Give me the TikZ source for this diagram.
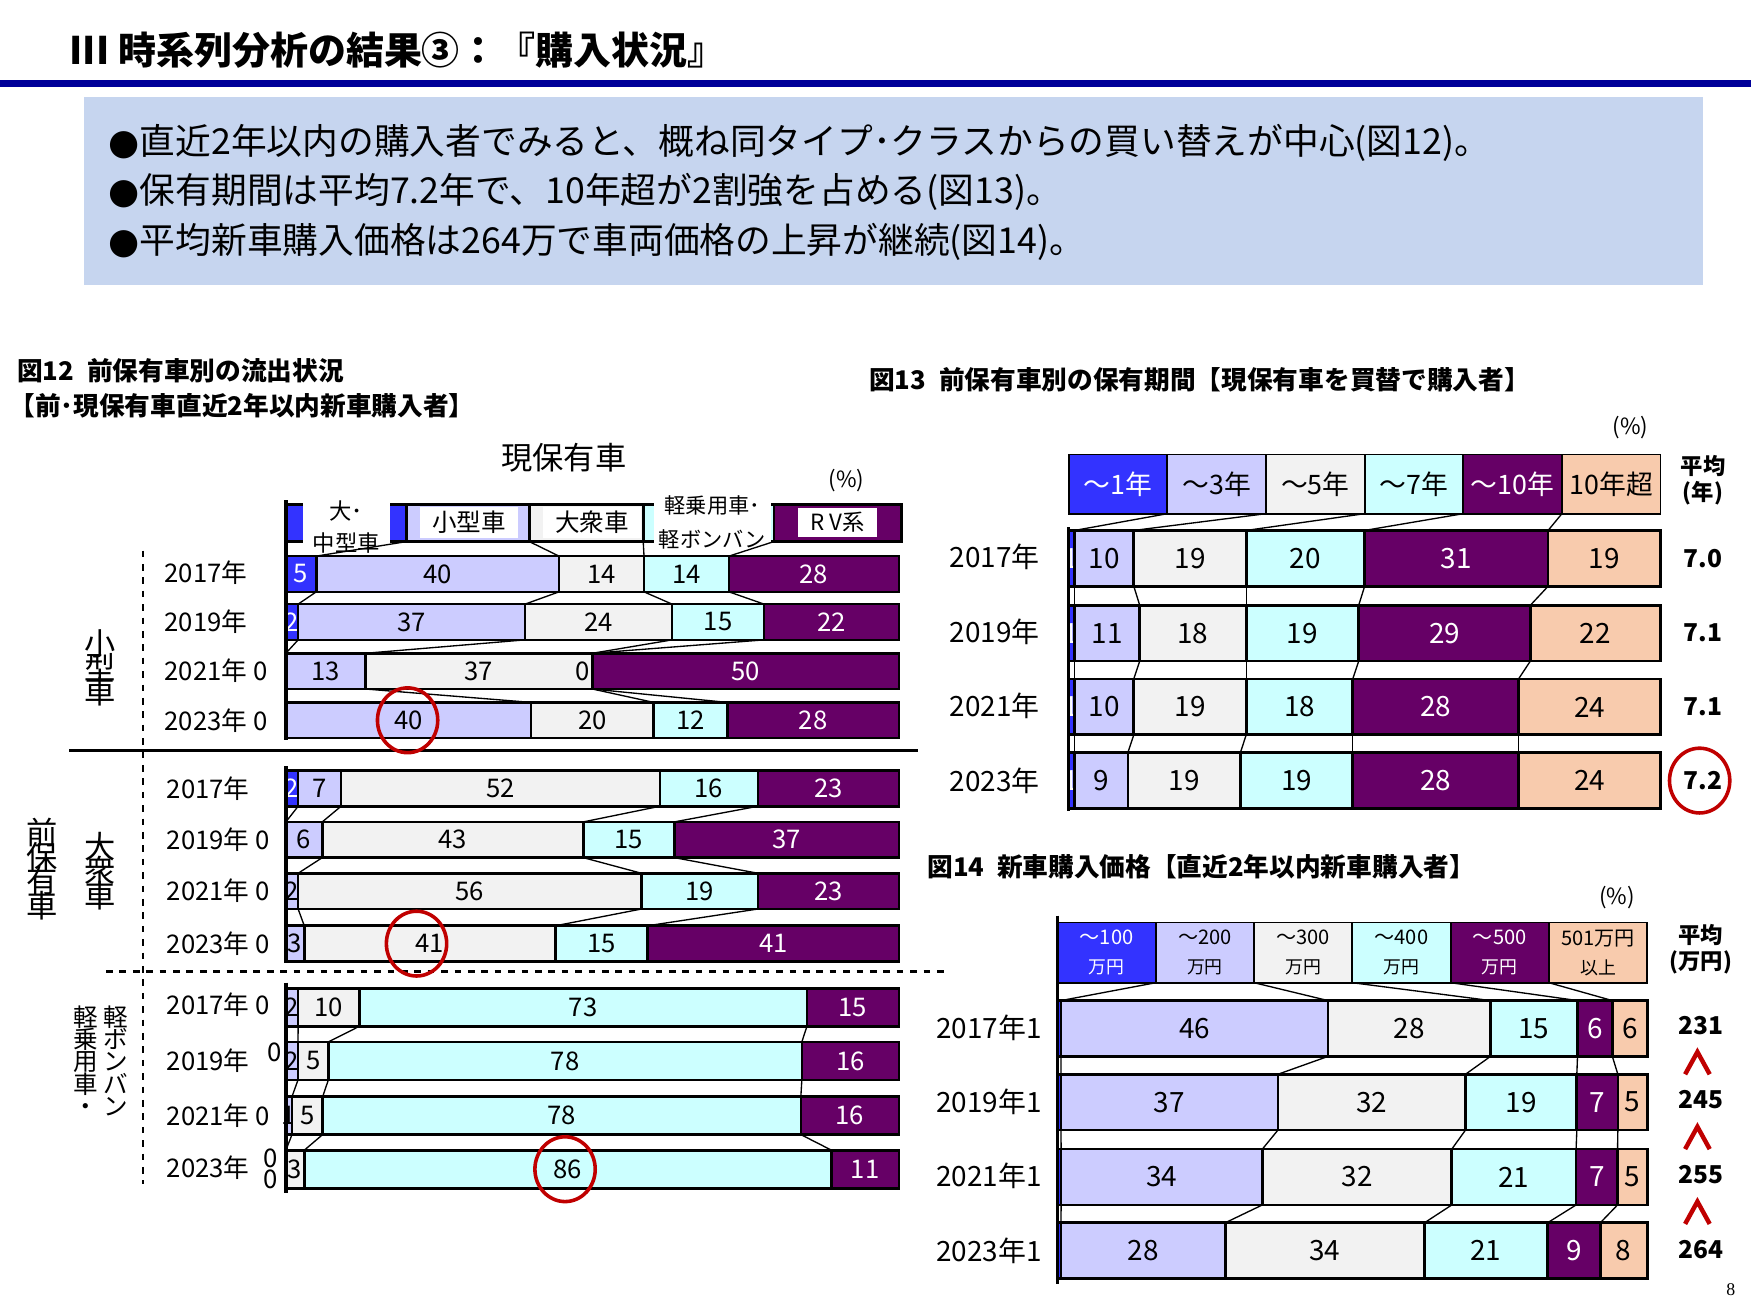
\documentclass[tikz,border=0pt]{standalone}
\usepackage{fontspec}
\usetikzlibrary{shapes.geometric}
\setmainfont{Noto Sans CJK JP}
\definecolor{ca}{HTML}{3333FF}
\definecolor{cb}{HTML}{CCCCFF}
\definecolor{cc}{HTML}{F2F2F2}
\definecolor{cd}{HTML}{CCFFFF}
\definecolor{ce}{HTML}{660066}
\definecolor{cf}{HTML}{F8CBAD}
\definecolor{navy}{HTML}{000099}
\definecolor{boxbg}{HTML}{C6D5EF}
\definecolor{cred}{HTML}{C00000}
\newcommand\fs[1]{\fontsize{#1}{#1}\selectfont}
% name, x0, x1, yc, halfheight, vals (v/color/textcolor)
\newcommand\sbar[6]{%
 \xdef\tot{0}%
 \foreach \v/\c/\t in {#6}{\pgfmathparse{\tot+\v}\xdef\tot{\pgfmathresult}}%
 \xdef\acc{0}%
 \foreach \v/\c/\t [count=\i] in {#6}{%
   \pgfmathsetmacro\xa{#2+(#3-#2)*(\acc/\tot)}%
   \pgfmathsetmacro\xb{#2+(#3-#2)*((\acc+\v)/\tot)}%
   \fill[\c,draw=black,line width=1.2pt] (\xa,#4-#5) rectangle (\xb,#4+#5);
   \pgfmathtruncatemacro\ok{\v>0.9}%
   \ifnum\ok>0 \node[text=\t,inner sep=0] (#1n\i) at ({(\xa+\xb)/2},#4) {\v};\fi
   \coordinate (#1t\i) at (\xb,#4-#5);
   \coordinate (#1b\i) at (\xb,#4+#5);
   \pgfmathparse{\acc+\v}\xdef\acc{\pgfmathresult}%
 }}
\newcommand\links[3]{\foreach \k in {#3}{\draw[line width=0.6pt] (#1b\k) -- (#2t\k);}}
\begin{document}
\begin{tikzpicture}[x=0.5pt,y=-0.5pt,
  ring/.style={draw=cred,line width=1.6pt,ellipse,minimum width=27pt,minimum height=29pt},
  yl/.style={anchor=west,inner sep=0},
  hl/.style={fill=white,inner sep=2pt,align=center}]
\useasboundingbox (0,0) rectangle (1568,1176);
% title
\node[anchor=west,inner sep=0] (title) at (62,45) {\fs{17}\bfseries III 時系列分析の結果③：『購入状況』};
\fill[navy] (0,72) rectangle (1568,78);
\fill[boxbg] (75,87) rectangle (1525,255);
\node[anchor=west,inner sep=0,align=left] (sum) at (97,172) {\fs{16}\fontspec{DejaVu Sans}●\fontspec{Noto Sans CJK JP}直近2年以内の購入者でみると、概ね同タイプ･クラスからの買い替えが中心(図12)。\\[4.5pt]
\fs{16}\fontspec{DejaVu Sans}●\fontspec{Noto Sans CJK JP}保有期間は平均7.2年で、10年超が2割強を占める(図13)。\\[4.5pt]
\fs{16}\fontspec{DejaVu Sans}●\fontspec{Noto Sans CJK JP}平均新車購入価格は264万で車両価格の上昇が継続(図14)。};
% ===== fig 12
\node[anchor=west,inner sep=0] (t12a) at (15,332) {\fs{11.5}\bfseries 図12\enspace 前保有車別の流出状況};
\node[anchor=west,inner sep=0] (t12b) at (8,363) {\fs{11.5}\bfseries 【前･現保有車直近2年以内新車購入者】};
\node (gen) at (505,410) {\fs{14}現保有車};
\node (p12) at (758,430) {\fs{10}(\%)};
% header
\foreach \a/\b/\c [count=\i] in {256/364/ca,364/474/cb,474/576/cc,576/693/cd,693/807/ce}{
  \fill[\c,draw=black,line width=1.2pt] (\a,452) rectangle (\b,485);
  \coordinate (Hb\i) at (\b,485);}
\node[hl,minimum width=39pt,minimum height=30pt] (h1) at (310,472) {\fs{10}大･\\[2pt]\fs{10}中型車};
\node[hl,minimum width=44pt,minimum height=13pt] (h2) at (420,468) {\fs{11}小型車};
\node[hl,minimum width=44pt,minimum height=13pt] (h3) at (530,468) {\fs{11}大衆車};
\node[hl,minimum width=52pt,minimum height=28pt] (h4) at (638,468) {\fs{9.5}軽乗用車･\\[3pt]\fs{9.5}軽ボンバン};
\node[hl,minimum width=35pt,minimum height=13pt] (h5) at (750,468) {\fs{10}R V系};
\begin{scope}[font=\fs{11.5}]
\sbar{Sa}{256}{805}{514}{16}{5/ca/white,40/cb/black,14/cc/black,14/cd/black,28/ce/white}
\sbar{Sb}{256}{805}{557}{16}{2/ca/white,37/cb/black,24/cc/black,15/cd/black,22/ce/white}
\sbar{Sc}{256}{805}{601}{16}{0/ca/white,13/cb/black,37/cc/black,0/cd/black,50/ce/white}
\sbar{Sd}{256}{805}{645}{16}{0/ca/white,40/cb/black,20/cc/black,12/cd/black,28/ce/white}
\sbar{La}{256}{805}{706}{16}{2/ca/white,7/cb/black,52/cc/black,16/cd/black,23/ce/white}
\sbar{Lb}{256}{805}{752}{16}{0/ca/white,6/cb/black,43/cc/black,15/cd/black,37/ce/white}
\sbar{Lc}{256}{805}{798}{16}{0/ca/white,2/cb/black,56/cc/black,19/cd/black,23/ce/white}
\sbar{Ld}{256}{805}{845}{16}{0/ca/white,3/cb/black,41/cc/black,15/cd/black,41/ce/white}
\sbar{Ka}{256}{805}{902}{17}{0/ca/white,2/cb/black,10/cc/black,73/cd/black,15/ce/white}
\sbar{Kb}{256}{805}{950}{17}{0/ca/white,2/cb/black,5/cc/black,78/cd/black,16/ce/white}
\sbar{Kc}{256}{805}{999}{17}{0/ca/white,1/cb/black,5/cc/black,78/cd/black,16/ce/white}
\sbar{Kd}{256}{805}{1047}{17}{0/ca/white,0/cb/black,3/cc/black,86/cd/black,11/ce/white}
\node[inner sep=0] (z1) at (522,601) {0};
\node[yl] (ya) at (147,513) {2017年};
\node[yl] (yb) at (147,557) {2019年};
\node[yl] (yc) at (147,601) {2021年 0};
\node[yl] (yd) at (147,645) {2023年 0};
\node[yl] (ye) at (149,706) {2017年};
\node[yl] (yf) at (149,752) {2019年 0};
\node[yl] (yg) at (149,798) {2021年 0};
\node[yl] (yh) at (149,845) {2023年 0};
\node[yl] (yi) at (149,900) {2017年 0};
\node[yl] (yj) at (149,950) {2019年};
\node[inner sep=0] (zj) at (246,942) {0};
\node[yl] (yk) at (149,999) {2021年 0};
\node[yl] (yl2) at (149,1046) {2023年};
\node[inner sep=0,align=center] (zl) at (242,1047) {0\\[-2pt]0};
\end{scope}
\links{H}{Sa}{1,2,3,4}
\links{Sa}{Sb}{1,2,3,4}\links{Sb}{Sc}{1,2,3,4}\links{Sc}{Sd}{1,2,3,4}
\links{La}{Lb}{1,2,3,4}\links{Lb}{Lc}{1,2,3,4}\links{Lc}{Ld}{1,2,3,4}
\links{Ka}{Kb}{1,2,3,4}\links{Kb}{Kc}{1,2,3,4}\links{Kc}{Kd}{1,2,3,4}
\draw[line width=2pt] (256,448) -- (256,663);
\draw[line width=2pt] (256,686) -- (256,862);
\draw[line width=2pt] (256,880) -- (256,1068);
\draw[dashed,line width=0.8pt] (128,493) -- (128,1060);
\draw[line width=1pt] (62,672) -- (822,672);
\draw[dashed,line width=1pt] (95,870) -- (850,870);
\node[align=center,inner sep=0] (vs) at (90,598) {\fs{14}小\\[-3pt]\fs{14}型\\[-3pt]\fs{14}車};
\node[align=center,inner sep=0] (vl) at (90,780) {\fs{14}大\\[-3pt]\fs{14}衆\\[-3pt]\fs{14}車};
\node[align=center,inner sep=0] (vz) at (38,778) {\fs{14}前\\[-3pt]\fs{14}保\\[-3pt]\fs{14}有\\[-3pt]\fs{14}車};
\node[align=center,inner sep=0,anchor=north] (vk1) at (77,900) {\fs{11}軽\\[-2pt]\fs{11}乗\\[-2pt]\fs{11}用\\[-2pt]\fs{11}車\\[-2pt]\fs{11}・};
\node[align=center,inner sep=0,anchor=north] (vk2) at (104,900) {\fs{11}軽\\[-2pt]\fs{11}ボ\\[-2pt]\fs{11}ン\\[-2pt]\fs{11}バ\\[-2pt]\fs{11}ン};
\node[ring] (r1) at (365,645) {};
\node[ring] (r2) at (373,845) {};
\node[ring] (r3) at (506,1047) {};
% ===== fig 13
\node[anchor=west,inner sep=0] (t13) at (778,340) {\fs{11.5}\bfseries 図13\enspace 前保有車別の保有期間【現保有車を買替で購入者】};
\node (p13) at (1460,383) {\fs{10}(\%)};
\foreach \c/\tc/\s [count=\i] in {ca/white/～1年,cb/black/～3年,cc/black/～5年,cd/black/～7年,ce/white/～10年,cf/black/10年超}{
  \pgfmathsetmacro\xa{957+88.33*(\i-1)}\pgfmathsetmacro\xb{957+88.33*\i}
  \fill[\c,draw=black,line width=0.8pt] (\xa,407) rectangle (\xb,460);
  \node[text=\tc,inner sep=0] (g\i) at ({(\xa+\xb)/2},434) {\fs{12}\s};
  \coordinate (Gb\i) at (\xb,460);}
\node[align=center,inner sep=0] (avg13) at (1525,430) {\fs{10}\bfseries 平均\\\fs{10}\bfseries (年)};
\begin{scope}[font=\fs{12.5}]
\sbar{Ya}{957}{1487}{500}{25}{1/ca/white,10/cb/black,19/cc/black,20/cd/black,31/ce/white,19/cf/black}
\sbar{Yb}{957}{1487}{567}{25}{1/ca/white,11/cb/black,18/cc/black,19/cd/black,29/ce/white,22/cf/black}
\sbar{Yc}{957}{1487}{633}{25}{1/ca/white,10/cb/black,19/cc/black,18/cd/black,28/ce/white,24/cf/black}
\sbar{Yd}{957}{1487}{699}{25}{1/ca/white,9/cb/black,19/cc/black,19/cd/black,28/ce/white,24/cf/black}
\node[yl] (y13a) at (850,499) {2017年};
\node[yl] (y13b) at (850,566) {2019年};
\node[yl] (y13c) at (850,632) {2021年};
\node[yl] (y13d) at (850,699) {2023年};
\end{scope}
\foreach \r/\v in {500/7.0,567/7.1,633/7.1,699/7.2}{\node[inner sep=0] at (1525,\r) {\fs{11}\bfseries \v};}
\links{G}{Ya}{1,2,3,4,5}\links{Ya}{Yb}{1,2,3,4,5}\links{Yb}{Yc}{1,2,3,4,5}\links{Yc}{Yd}{1,2,3,4,5}
\draw[line width=1.5pt] (957,472) -- (957,726);
\node[ring] (r4) at (1522,699) {};
% ===== fig 14
\node[anchor=west,inner sep=0] (t14) at (830,776) {\fs{11.5}\bfseries 図14\enspace 新車購入価格【直近2年以内新車購入者】};
\node (p14) at (1448,804) {\fs{10}(\%)};
\foreach \c/\tc/\s/\u [count=\i] in {ca/white/～100/万円,cb/black/～200/万円,cc/black/～300/万円,cd/black/～400/万円,ce/white/～500/万円,cf/black/501万円/以上}{
  \pgfmathsetmacro\xa{947+88*(\i-1)}\pgfmathsetmacro\xb{947+88*\i}
  \fill[\c,draw=black,line width=0.8pt] (\xa,826) rectangle (\xb,880);
  \node[text=\tc,inner sep=0,align=center] (m\i) at ({(\xa+\xb)/2},853) {\fs{9}\s\\[1pt]\fs{8}\u};
  \coordinate (Mb\i) at (\xb,880);}
\node[align=center,inner sep=0] (avg14) at (1523,850) {\fs{10}\bfseries 平均\\\fs{10}\bfseries (万円)};
\begin{scope}[font=\fs{12.5}]
\sbar{Pa}{947}{1475}{921}{25}{0.6/ca/white,46/cb/black,28/cc/black,15/cd/black,6/ce/white,6/cf/black}
\sbar{Pb}{947}{1475}{987}{25}{0.6/ca/white,37/cb/black,32/cc/black,19/cd/black,7/ce/white,5/cf/black}
\sbar{Pc}{947}{1475}{1054}{25}{0.6/ca/white,34/cb/black,32/cc/black,21/cd/black,7/ce/white,5/cf/black}
\sbar{Pd}{947}{1475}{1120}{25}{0.6/ca/white,28/cb/black,34/cc/black,21/cd/black,9/ce/white,8/cf/black}
\node[yl] (y14a) at (838,920) {2017年1};
\node[yl] (y14b) at (838,987) {2019年1};
\node[yl] (y14c) at (838,1053) {2021年1};
\node[yl] (y14d) at (838,1120) {2023年1};
\end{scope}
\foreach \r/\v in {918/231,985/245,1052/255,1119/264}{\node[inner sep=0] at (1523,\r) {\fs{11}\bfseries \v};}
\foreach \r [count=\j] in {952,1019,1086}{\draw[cred,line width=2pt] (1509,\r+10) -- (1520,\r-10) -- (1531,\r+10);}
\links{M}{Pa}{1,2,3,4,5}\links{Pa}{Pb}{1,2,3,4,5}\links{Pb}{Pc}{1,2,3,4,5}\links{Pc}{Pd}{1,2,3,4,5}
\draw[line width=1.5pt] (947,820) -- (947,1150);
\node[inner sep=0] (pg) at (1550,1155) {\fs{8}\fontspec{Liberation Serif}8};
\end{tikzpicture}
\end{document}
